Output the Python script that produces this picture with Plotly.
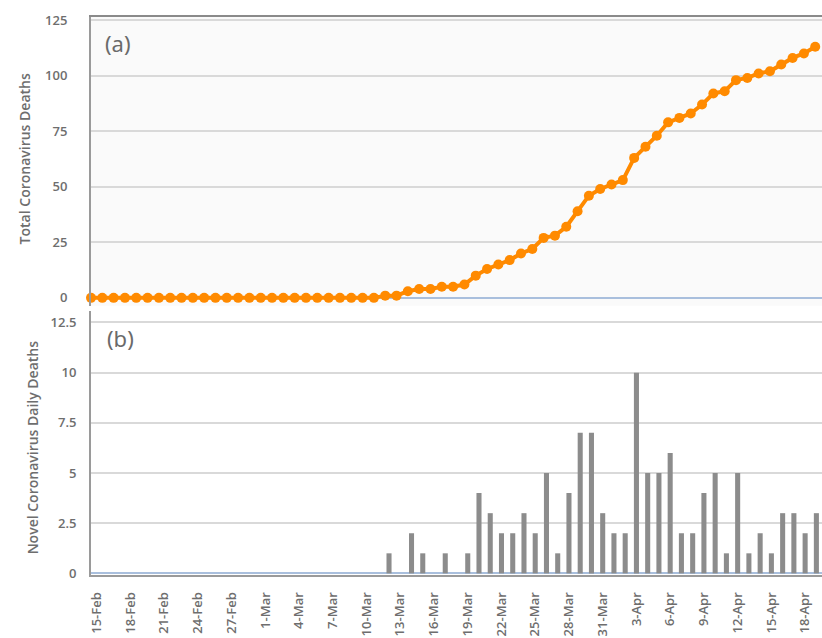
import pandas as pd
import plotly.graph_objects as go

# 15-Feb .. 19-Apr (2020), one entry per day
dates = [f"{d.day}-{d.strftime('%b')}" for d in pd.date_range("2020-02-15", "2020-04-19")]

# new deaths reported each day
daily_deaths = [0] * 26 + [
    1, 0, 2, 1, 0, 1, 0, 1, 4, 3, 2, 2, 3, 2, 5, 1, 4, 7, 7, 3,
    2, 2, 10, 5, 5, 6, 2, 2, 4, 5, 1, 5, 1, 2, 1, 3, 3, 2, 3,
]

# running total of deaths
total_deaths = [0] * 26 + [
    1, 1, 3, 4, 4, 5, 5, 6, 10, 13, 15, 17, 20, 22, 27, 28, 32, 39, 46, 49,
    51, 53, 63, 68, 73, 79, 81, 83, 87, 92, 93, 98, 99, 101, 102, 105, 108, 110, 113,
]

tick_dates = dates[::3]

ORANGE = "#ff8a00"
BAR = "#8c8c8c"
GRID = "#d9d9d9"
AXIS = "#9a9a9a"
TXT = "#6e6e6e"
ZERO = "#a9bfdd"
FONT = "Open Sans, Arial, sans-serif"

fig = go.Figure()

fig.add_trace(go.Scatter(
    x=dates, y=total_deaths, xaxis="x", yaxis="y",
    mode="lines+markers",
    line=dict(color=ORANGE, width=4),
    marker=dict(color=ORANGE, size=10),
    cliponaxis=False, showlegend=False,
))

fig.add_trace(go.Bar(
    x=dates, y=daily_deaths, xaxis="x2", yaxis="y2",
    marker=dict(color=BAR, line=dict(width=0)),
    showlegend=False,
))

tick_font = dict(family=FONT, size=13, color=TXT, weight=600)

fig.update_layout(
    width=822, height=638,
    margin=dict(l=91, r=0, t=0, b=63),
    paper_bgcolor="white",
    plot_bgcolor="white",
    bargap=0.55,
    xaxis=dict(
        type="category", domain=[0, 1], anchor="y", side="top",
        range=[0, 64.6],
        showticklabels=False, ticks="", showgrid=False,
        showline=True, linecolor="#8a8a8a", linewidth=2,
        zeroline=False,
    ),
    yaxis=dict(
        domain=[0.473, 0.981], anchor="x",
        range=[-3.6, 126.5],
        tickvals=[0, 25, 50, 75, 100, 125],
        tickfont=tick_font,
        ticks="outside", ticklen=19, tickcolor="rgba(0,0,0,0)",
        showgrid=True, gridcolor=GRID, gridwidth=1.5,
        zeroline=True, zerolinecolor=ZERO, zerolinewidth=2,
        showline=True, linecolor=AXIS, linewidth=2,
    ),
    xaxis2=dict(
        type="category", domain=[0, 1], anchor="y2",
        range=[-0.5, 64.5],
        tickvals=tick_dates, ticktext=tick_dates,
        tickangle=-90,
        tickfont=dict(family=FONT, size=13, color=TXT, weight=600),
        ticks="outside", ticklen=10, tickcolor="rgba(0,0,0,0)",
        showgrid=False,
        showline=True, linecolor=AXIS, linewidth=2,
        zeroline=False, automargin=False,
    ),
    yaxis2=dict(
        domain=[0, 0.4643], anchor="x2",
        range=[-0.08, 13.08],
        tickvals=[0, 2.5, 5, 7.5, 10, 12.5],
        ticktext=["0", "2.5", "5", "7.5", "10", "12.5"],
        tickfont=tick_font,
        ticks="outside", ticklen=10, tickcolor="rgba(0,0,0,0)",
        showgrid=True, gridcolor=GRID, gridwidth=1.5,
        zeroline=True, zerolinecolor=ZERO, zerolinewidth=2,
        showline=True, linecolor=AXIS, linewidth=2,
    ),
    shapes=[
        # faint grey background behind the cumulative panel
        dict(type="rect", xref="x domain", yref="y domain",
             x0=0, x1=1, y0=0, y1=1, fillcolor="#fafafa",
             line=dict(width=0), layer="below"),
    ],
    annotations=[
        dict(text="Total Coronavirus Deaths", textangle=-90,
             xref="paper", yref="paper", x=(24 - 91) / 731, y=(575 - 155) / 575,
             xanchor="center", yanchor="middle", showarrow=False,
             font=dict(family=FONT, size=14, color=TXT, weight=600)),
        dict(text="Novel Coronavirus Daily Deaths", textangle=-90,
             xref="paper", yref="paper", x=(32 - 91) / 731, y=(575 - 446) / 575,
             xanchor="center", yanchor="middle", showarrow=False,
             font=dict(family=FONT, size=14, color=TXT, weight=600)),
        dict(text="(a)", xref="paper", yref="paper",
             x=(118 - 91) / 731, y=(575 - 37) / 575,
             xanchor="center", yanchor="middle", showarrow=False,
             font=dict(family="Noto Sans, sans-serif", size=22, color="#6a6a6a")),
        dict(text="(b)", xref="paper", yref="paper",
             x=(120 - 91) / 731, y=(575 - 336) / 575,
             xanchor="center", yanchor="middle", showarrow=False,
             font=dict(family="Noto Sans, sans-serif", size=22, color="#6a6a6a")),
    ],
)

fig.write_html("out.html")
